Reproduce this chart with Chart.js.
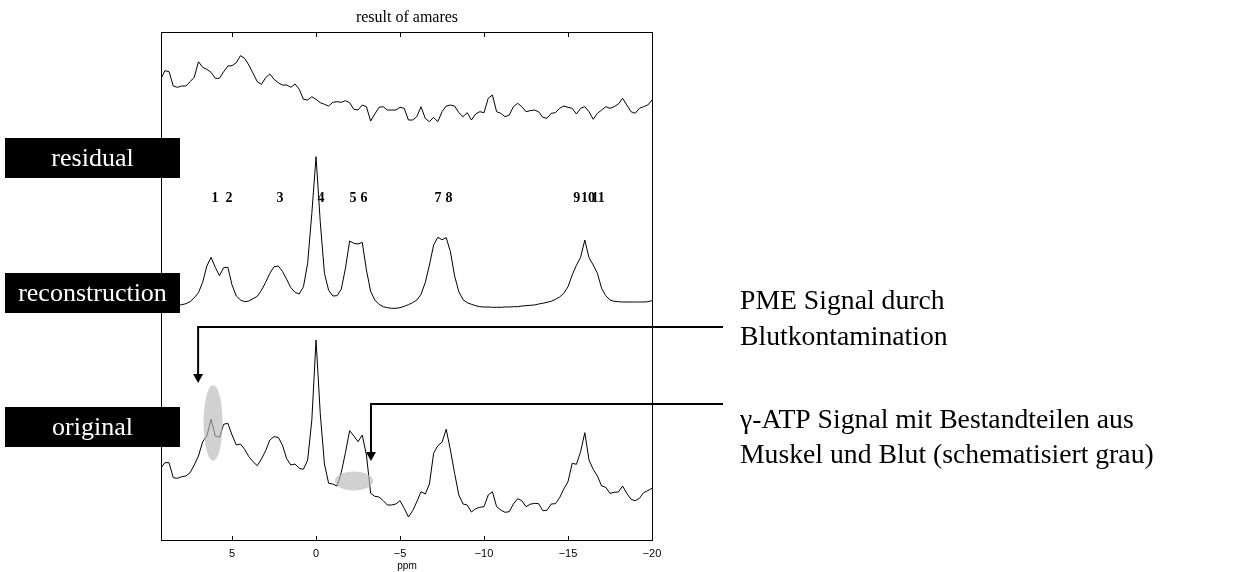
<!DOCTYPE html>
<html>
<head>
<meta charset="utf-8">
<title>result of amares</title>
<script src="https://cdn.jsdelivr.net/npm/chart.js@4.4.1/dist/chart.umd.min.js"></script>
<style>
    html, body { margin: 0; padding: 0; background: #fff; }
    canvas { display: block; }
</style>
</head>
<body>
<canvas id="amares" width="1240" height="572"></canvas>
<script>
// Chemical shift grid (ppm) shared by the three traces
const ppm = [
    9.25, 9, 8.75, 8.5, 8.25, 8, 7.75, 7.5, 7.25, 7,
    6.75, 6.5, 6.25, 6, 5.75, 5.5, 5.25, 5, 4.75, 4.5,
    4.25, 4, 3.75, 3.5, 3.25, 3, 2.75, 2.5, 2.25, 2,
    1.75, 1.5, 1.25, 1, 0.75, 0.5, 0.25, 0, -0.25, -0.5,
    -0.75, -1, -1.25, -1.5, -1.75, -2, -2.25, -2.5, -2.75, -3,
    -3.25, -3.5, -3.75, -4, -4.25, -4.5, -4.75, -5, -5.25, -5.5,
    -5.75, -6, -6.25, -6.5, -6.75, -7, -7.25, -7.5, -7.75, -8,
    -8.25, -8.5, -8.75, -9, -9.25, -9.5, -9.75, -10, -10.25, -10.5,
    -10.75, -11, -11.25, -11.5, -11.75, -12, -12.25, -12.5, -12.75, -13,
    -13.25, -13.5, -13.75, -14, -14.25, -14.5, -14.75, -15, -15.25, -15.5,
    -15.75, -16, -16.25, -16.5, -16.75, -17, -17.25, -17.5, -17.75, -18,
    -18.25, -18.5, -18.75, -19, -19.25, -19.5, -19.75, -20
];

// Intensities (a.u.), each relative to its own trace baseline
const residual = [
    50.7, 59.3, 58.3, 44, 42.7, 44, 44, 48.3, 52.7, 68.3,
    62.7, 60.7, 57.7, 51.7, 51.7, 58.3, 64, 64.3, 67.3, 74.3,
    71.7, 65, 56.7, 48.3, 45.7, 52.3, 56, 50.7, 47.3, 45,
    45, 42.7, 46, 40.7, 30.7, 30, 33.3, 30.7, 27.3, 25.7,
    24, 27.7, 28.3, 27.7, 29.3, 27.3, 20.7, 20, 25, 23.3,
    9, 16, 22.7, 23.3, 20, 20, 20, 22.7, 21.7,
    10, 10, 13.3, 23.3, 11.7, 8.3, 12.7, 8.3, 18.3, 24,
    25, 24, 17.3, 13.3, 17.3, 10, 16, 18.3, 17.3, 31.7,
    35, 18.3, 16.7, 13.3, 15, 23.3, 26.7, 23.3, 18.3, 19.3,
    20, 18.3, 12.7, 11.7, 16.7, 17.3, 21.7, 24, 22.7, 21.7,
    16, 21.7, 23.3, 18.3, 10.7, 16.7, 20, 23.3, 21.7, 23.3,
    26, 31.7, 25, 18.3, 16.7, 21.7, 23.3, 25, 30
];

const reconstruction = [
    -1, -1, -0.7, -0.7, -0.3, 0.3, 1.3, 3.3, 7.3, 12.3,
    22.7, 39, 47.7, 37.7, 29.3, 37.3, 37.7, 20, 9, 5,
    3.3, 4, 6.3, 8.7, 14.7, 22.7, 31.7, 38.3, 39, 33.7,
    25.7, 17.3, 12.7, 11, 18.3, 41.7, 91.7, 148.3, 83.3, 31.7,
    14.7, 9, 9.3, 15.7, 36.7, 64, 61.7, 61, 62.7, 35,
    13.7, 5, 0.7, -1.7, -2.7, -3.3, -3.3, -2.7, -1.3, 0.3,
    2.3, 5, 10.7, 22.3, 40, 60, 67.7, 65.3, 67.3, 53.3,
    29, 13.3, 5.3, 2.3, 0.7, -0.7, -1.7, -2, -2, -2.3,
    -2.3, -2.3, -2, -2, -1.7, -1.7, -1, -0.7, -0.3, 0,
    1, 1.7, 2.7, 3.7, 5.7, 8, 11.7, 18.3, 30, 39.7,
    47.7, 65, 47.3, 40, 31.7, 16.7, 9.3, 5, 3.7, 3.3,
    3, 3, 3, 3, 3, 3, 3.3, 4.3
];

const original = [
    11.7, 17.3, 17.3, 2.3, 1.7, 3.3, 4, 7.3, 15, 24,
    38.3, 44, 60.7, 44, 42.7, 55.7, 56.7, 45, 35, 36,
    30.7, 23.3, 18.3, 14.3, 21, 29.3, 40, 43.3, 42.7, 35,
    21.3, 15, 16, 11.7, 10.7, 20, 60, 140, 66.7, 16,
    -3.3, -4, -6, 7.3, 27.3, 49.3, 44, 38.3, 45, 25,
    -13.3, -16.3, -17, -20.7, -25, -25, -24, -20.7, -28.3,
    -37, -30.7, -21.7, -11.7, -14, -4, 26.7, 34.3, 37.7, 50.7,
    30, 6.7, -15, -24, -25, -32, -28.7, -27.3, -26.7, -15,
    -11.7, -26.7, -30, -32.3, -31.7, -24, -18.7, -20.7, -26.7, -24.3,
    -23.3, -23.7, -30.7, -30.3, -24, -23.7, -17.7, -9, -1.7, 16.7,
    15.7, 28.3, 47.3, 20, 10.7, 4, -6, -7.3, -13.3, -12.3,
    -12, -6, -13.3, -19.3, -20.7, -18.3, -12.7, -10.7, -8.3
];

const xTickValues = [5, 0, -5, -10, -15, -20];

// Fitted peak numbers and where they sit (ppm)
const peakNames = ['1', '2', '3', '4', '5', '6', '7', '8', '9', '10', '11'];
const peakPpm = [6.01, 5.18, 2.14, -0.3, -2.2, -2.86, -7.26, -7.92, -15.52, -16.19, -16.79];

const traceNames = ['residual', 'reconstruction', 'original'];
const noteLines = [
    ['PME Signal durch', 'Blutkontamination'],
    ['\u03b3-ATP Signal mit Bestandteilen aus', 'Muskel und Blut (schematisiert grau)']
];

// Vertical stacking of the traces on the shared y scale
const traceOffset = { residual: 411, reconstruction: 236, original: 61 };
const boxCenter = { residual: 383, reconstruction: 248, original: 114 };

const serif = '"Liberation Serif", "Times New Roman", serif';

const toPoints = (values, offset) => values.map((v, i) => ({ x: ppm[i], y: offset + v }));

const traceDataset = (values, offset) => ({
    data: toPoints(values, offset),
    borderColor: '#000',
    borderWidth: 1,
    pointRadius: 0,
    fill: false,
    tension: 0
});

const drawArrow = (ctx, xRight, xDown, yLine, yTip) => {
    ctx.beginPath();
    ctx.moveTo(xRight, yLine);
    ctx.lineTo(xDown, yLine);
    ctx.lineTo(xDown, yTip - 8);
    ctx.stroke();
    ctx.beginPath();
    ctx.moveTo(xDown - 5, yTip - 9);
    ctx.lineTo(xDown + 5, yTip - 9);
    ctx.lineTo(xDown, yTip);
    ctx.closePath();
    ctx.fill();
};

const decorations = {
    id: 'decorations',
    beforeDraw: (chart) => {
        const ctx = chart.ctx;
        ctx.save();
        ctx.fillStyle = '#fff';
        ctx.fillRect(0, 0, chart.width, chart.height);
        ctx.restore();
    },
    afterDatasetsDraw: (chart) => {
        const { ctx, chartArea: a, scales: { x, y } } = chart;
        ctx.save();

        // Frame with inward ticks
        ctx.strokeStyle = '#000';
        ctx.lineWidth = 1;
        ctx.strokeRect(a.left + 0.5, a.top + 0.5, a.right - a.left - 1, a.bottom - a.top - 1);
        xTickValues.forEach(v => {
            const px = Math.round(x.getPixelForValue(v)) + 0.5;
            ctx.beginPath();
            ctx.moveTo(px, a.bottom);
            ctx.lineTo(px, a.bottom - 5);
            ctx.moveTo(px, a.top);
            ctx.lineTo(px, a.top + 5);
            ctx.stroke();
        });

        // Grey marks for the blood components
        ctx.fillStyle = 'rgba(185, 185, 185, 0.65)';
        ctx.beginPath();
        ctx.ellipse(x.getPixelForValue(6.13), y.getPixelForValue(118), 9.5, 38, 0, 0, Math.PI * 2);
        ctx.fill();
        ctx.beginPath();
        ctx.ellipse(x.getPixelForValue(-2.26), y.getPixelForValue(60), 19, 9.5, 0, 0, Math.PI * 2);
        ctx.fill();

        // Peak numbers
        ctx.fillStyle = '#000';
        ctx.font = 'bold 14px ' + serif;
        ctx.textAlign = 'center';
        ctx.textBaseline = 'middle';
        peakNames.forEach((name, i) => {
            ctx.fillText(name, x.getPixelForValue(peakPpm[i]), y.getPixelForValue(343));
        });

        // Arrows from the notes
        ctx.lineWidth = 2;
        ctx.strokeStyle = '#000';
        const xRight = x.getPixelForValue(-24.23);
        drawArrow(ctx, xRight, x.getPixelForValue(7.02), y.getPixelForValue(214), y.getPixelForValue(158));
        drawArrow(ctx, xRight, x.getPixelForValue(-3.27), y.getPixelForValue(137), y.getPixelForValue(80));

        // Black label boxes
        ctx.font = '26px ' + serif;
        ctx.textBaseline = 'alphabetic';
        traceNames.forEach(name => {
            const top = y.getPixelForValue(boxCenter[name]) - 20;
            ctx.fillStyle = '#000';
            ctx.fillRect(5, top, 175, 40);
            ctx.fillStyle = '#fff';
            ctx.fillText(name, 92.5, top + 28);
        });

        // Notes on the right
        ctx.fillStyle = '#000';
        ctx.font = '27.7px ' + serif;
        ctx.textAlign = 'left';
        const noteX = a.right + 87;
        noteLines[0].forEach((line, i) => ctx.fillText(line, noteX, 309 + i * 36));
        noteLines[1].forEach((line, i) => ctx.fillText(line, noteX, 428 + i * 35));

        ctx.restore();
    }
};

const amaresChart = new Chart(document.getElementById('amares'), {
    type: 'line',
    data: {
        datasets: [
            traceDataset(residual, traceOffset.residual),
            traceDataset(reconstruction, traceOffset.reconstruction),
            traceDataset(original, traceOffset.original)
        ]
    },
    options: {
        responsive: false,
        animation: false,
        devicePixelRatio: 1,
        layout: {
            padding: { left: 161, right: 587, top: 0, bottom: 0 }
        },
        plugins: {
            legend: { display: false },
            tooltip: { enabled: false },
            title: {
                display: true,
                text: 'result of amares',
                color: '#000',
                font: { family: serif, size: 16, weight: 'normal' },
                padding: { top: 8, bottom: 4.8 }
            }
        },
        scales: {
            x: {
                type: 'linear',
                reverse: true,
                min: -20.06,
                max: 9.23,
                grid: { display: false, drawTicks: false },
                border: { display: false },
                ticks: {
                    color: '#000',
                    padding: 6,
                    font: { family: '"Liberation Sans", Arial, sans-serif', size: 11 },
                    callback: (value) => value < 0 ? '\u2212' + Math.abs(value) : String(value)
                },
                title: {
                    display: true,
                    text: 'ppm',
                    color: '#000',
                    padding: 0,
                    font: { family: '"Liberation Sans", Arial, sans-serif', size: 10 }
                },
                afterBuildTicks: (scale) => {
                    scale.ticks = xTickValues.map(v => ({ value: v }));
                },
                afterFit: (scale) => {
                    scale.height = 31;
                }
            },
            y: {
                display: false,
                min: 0,
                max: 509
            }
        }
    },
    plugins: [decorations]
});
</script>
</body>
</html>
